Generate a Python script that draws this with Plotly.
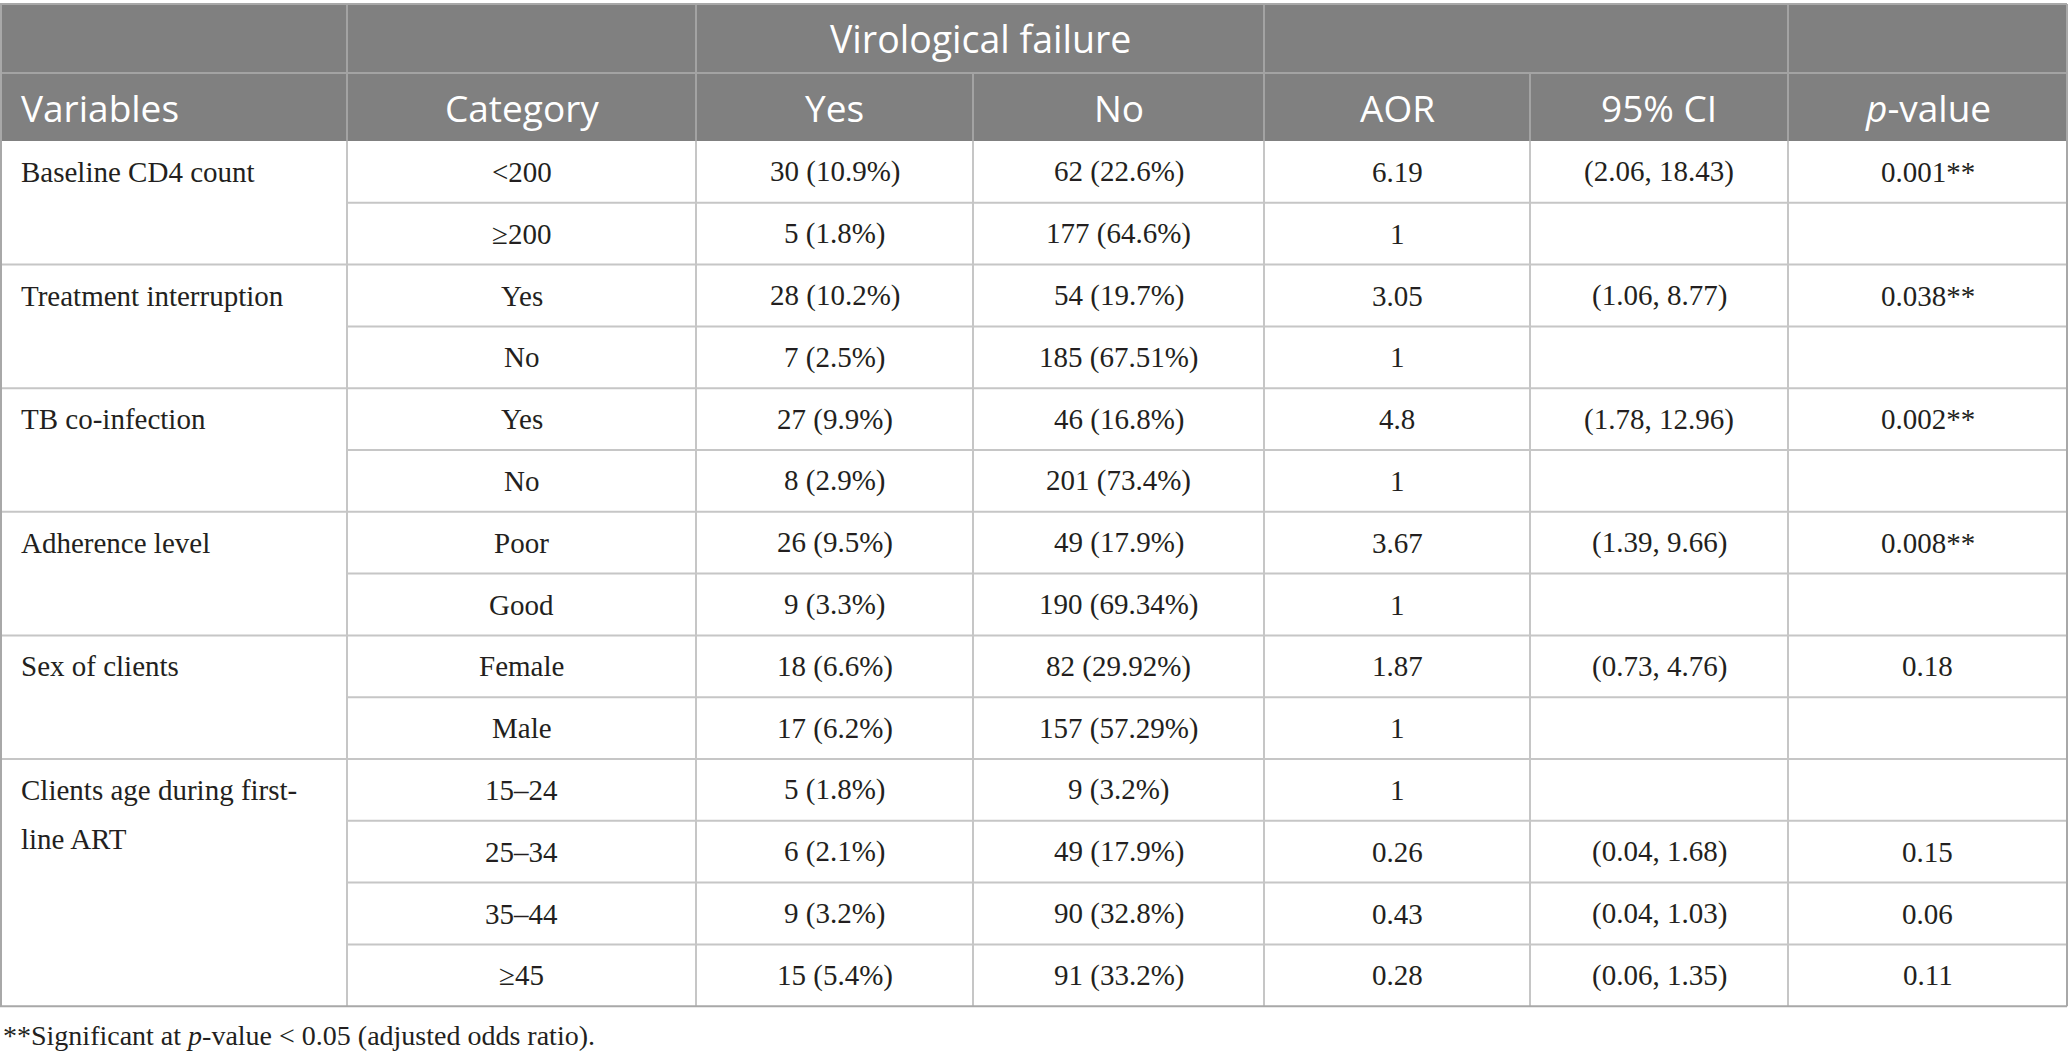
import plotly.graph_objects as go

# table content
variables = [
    ["Baseline CD4 count"],
    ["Treatment interruption"],
    ["TB co-infection"],
    ["Adherence level"],
    ["Sex of clients"],
    ["Clients age during first-", "line ART"],
]
group_sizes = [2, 2, 2, 2, 2, 4]
categories = ["<200", "≥200", "Yes", "No", "Yes", "No", "Poor", "Good",
              "Female", "Male", "15–24", "25–34", "35–44", "≥45"]
vf_yes = ["30 (10.9%)", "5 (1.8%)", "28 (10.2%)", "7 (2.5%)", "27 (9.9%)", "8 (2.9%)",
          "26 (9.5%)", "9 (3.3%)", "18 (6.6%)", "17 (6.2%)", "5 (1.8%)", "6 (2.1%)",
          "9 (3.2%)", "15 (5.4%)"]
vf_no = ["62 (22.6%)", "177 (64.6%)", "54 (19.7%)", "185 (67.51%)", "46 (16.8%)",
         "201 (73.4%)", "49 (17.9%)", "190 (69.34%)", "82 (29.92%)", "157 (57.29%)",
         "9 (3.2%)", "49 (17.9%)", "90 (32.8%)", "91 (33.2%)"]
aor = ["6.19", "1", "3.05", "1", "4.8", "1", "3.67", "1", "1.87", "1", "1",
       "0.26", "0.43", "0.28"]
ci95 = ["(2.06, 18.43)", "", "(1.06, 8.77)", "", "(1.78, 12.96)", "", "(1.39, 9.66)", "",
        "(0.73, 4.76)", "", "", "(0.04, 1.68)", "(0.04, 1.03)", "(0.06, 1.35)"]
p_value = ["0.001**", "", "0.038**", "", "0.002**", "", "0.008**", "", "0.18", "", "",
           "0.15", "0.06", "0.11"]
headers = ["Variables", "Category", "Yes", "No", "AOR", "95% CI", "<i>p</i>-value"]
span_header = "Virological failure"
footnote = "**Significant at <i>p</i>-value < 0.05 (adjusted odds ratio)."

# geometry (pixels)
W, H = 2068, 1059
col_x = [0, 347, 696, 973, 1264, 1530, 1788, 2067]
top, h1, h2 = 4, 73, 141
row_h = 61.8
n_rows = len(categories)
bottom = h2 + n_rows * row_h

header_bg = "#808080"
header_line = "#a3a3a3"
body_line = "#c6c6c6"
border = "#a8a8a8"
text_col = "#231f20"
sans = "Open Sans"
serif = "Liberation Serif"

fig = go.Figure()
shapes = []
annotations = []


def line(x0, y0, x1, y1, color, width=2):
    shapes.append(dict(type="line", xref="x", yref="y", x0=x0, y0=y0, x1=x1, y1=y1,
                       line=dict(color=color, width=width), layer="above"))


def text(x, y, s, anchor="center", font=serif, size=29, color=text_col):
    annotations.append(dict(x=x, y=y, xref="x", yref="y", text=s, showarrow=False,
                            xanchor=anchor, yanchor="middle",
                            font=dict(family=font, size=size, color=color)))


# header background
shapes.append(dict(type="rect", xref="x", yref="y", x0=col_x[0], x1=col_x[-1], y0=top, y1=h2,
                   fillcolor=header_bg, line=dict(width=0), layer="below"))

# header lines
line(0, h1, col_x[-1], h1, header_line)
for i in [1, 2, 4, 6]:
    line(col_x[i], top, col_x[i], h1, header_line)
for i in range(1, 7):
    line(col_x[i], h1, col_x[i], h2, header_line)

# header text
text((col_x[2] + col_x[4]) / 2, (top + h1) / 2, span_header, font=sans, size=37.5, color="white")
for i, h in enumerate(headers):
    if i == 0:
        text(col_x[0] + 19, (h1 + h2) / 2, h, anchor="left", font=sans, size=37, color="white")
    else:
        text((col_x[i] + col_x[i + 1]) / 2, (h1 + h2) / 2, h, font=sans, size=37, color="white")

# body row lines
r = 0
group_start = []
for g in group_sizes:
    group_start.append(r)
    r += g
for k in range(1, n_rows):
    y = h2 + k * row_h
    x0 = col_x[0] if k in group_start else col_x[1]
    line(x0, y, col_x[-1], y, body_line)
for i in range(1, 7):
    line(col_x[i], h2, col_x[i], bottom, body_line)

# outer border
line(0, top, col_x[-1], top, border)
line(0, bottom, col_x[-1], bottom, border)
line(col_x[0] + 1, top, col_x[0] + 1, bottom, border)
line(col_x[-1], top, col_x[-1], bottom, border)

# variable names
for lines_, start in zip(variables, group_start):
    yc = h2 + (start + 0.5) * row_h
    for j, s in enumerate(lines_):
        text(col_x[0] + 19, yc + j * 49, s, anchor="left")

# body cells
columns = [categories, vf_yes, vf_no, aor, ci95, p_value]
for c, vals in enumerate(columns):
    xc = (col_x[c + 1] + col_x[c + 2]) / 2
    for k, v in enumerate(vals):
        if v:
            text(xc, h2 + (k + 0.5) * row_h, v)

# footnote
text(1, 1035, footnote, anchor="left", size=28)

fig.update_layout(
    width=W, height=H,
    margin=dict(l=0, r=0, t=0, b=0),
    paper_bgcolor="white", plot_bgcolor="white",
    xaxis=dict(range=[0, W], visible=False, fixedrange=True),
    yaxis=dict(range=[H, 0], visible=False, fixedrange=True),
    shapes=shapes, annotations=annotations, showlegend=False,
)
fig.write_html("out.html", config={"displayModeBar": False},
               post_script="document.body.style.margin='0';document.body.style.overflow='hidden';")
